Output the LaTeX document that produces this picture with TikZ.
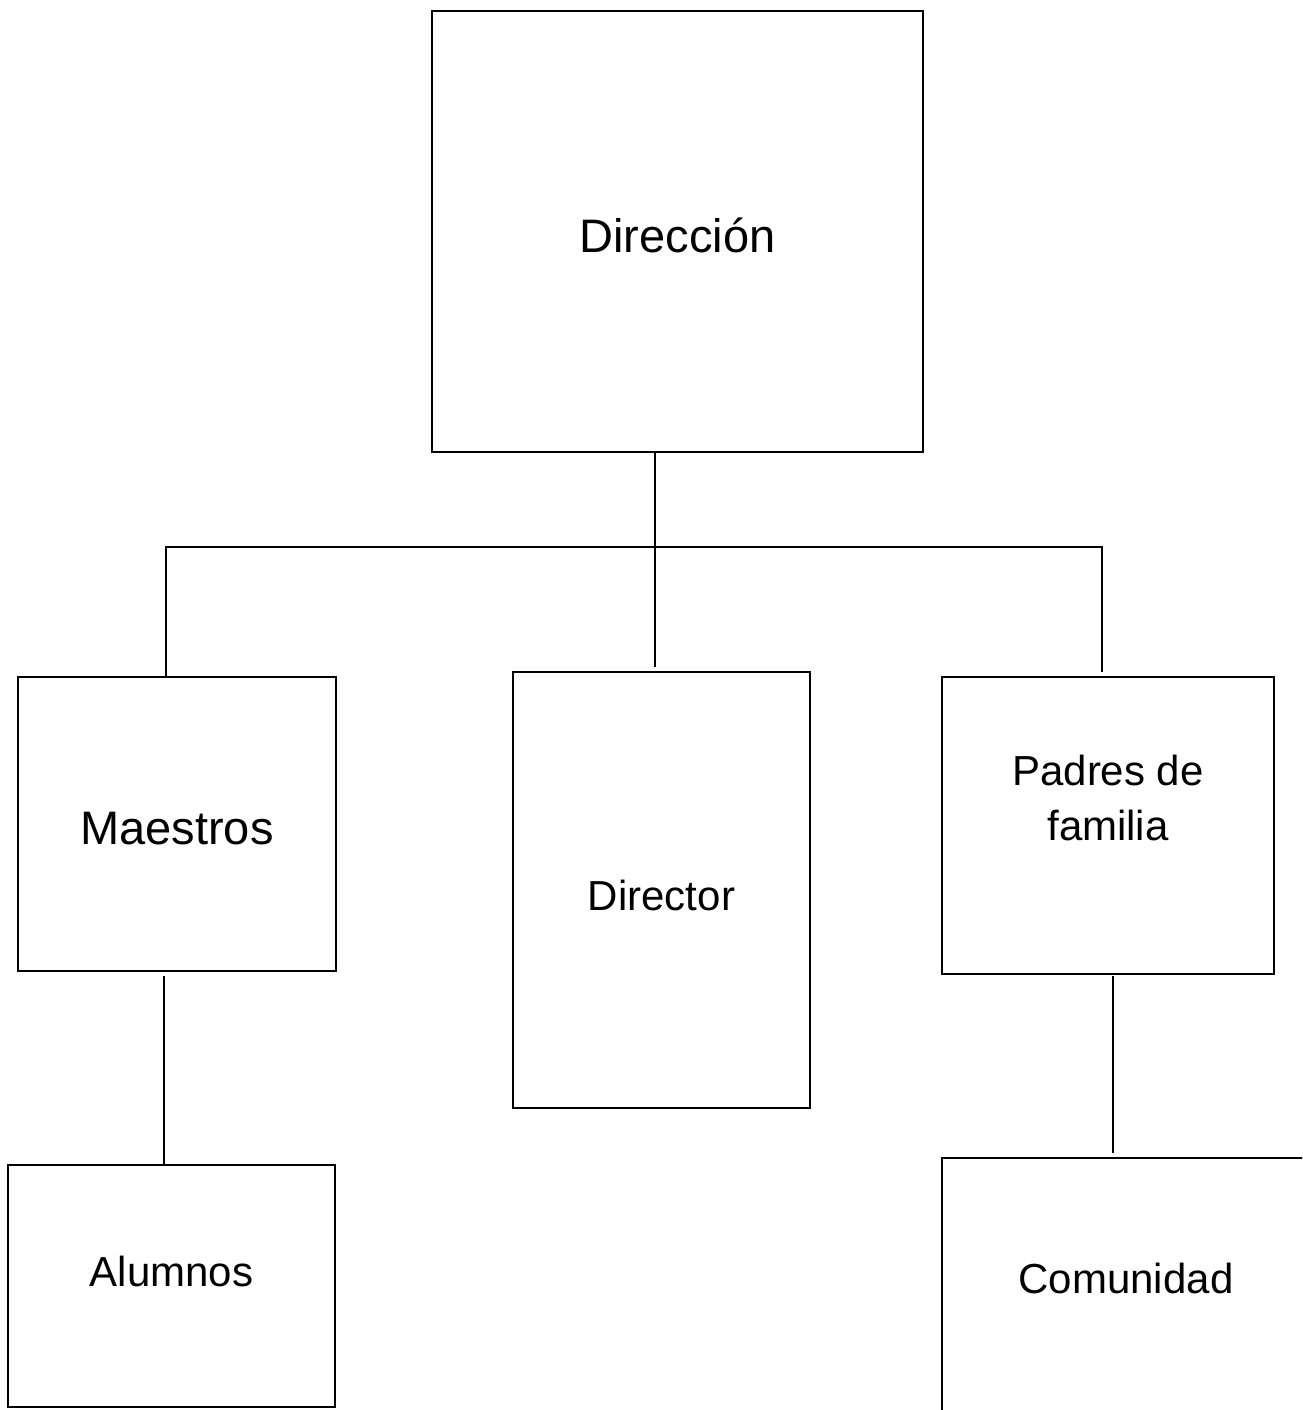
\documentclass[tikz,border=0pt]{standalone}
\usepackage{fontspec}
\setmainfont{Liberation Sans}
\usetikzlibrary{positioning}

\tikzset{
  caja/.style={draw,rectangle,line width=1.5pt,inner sep=0pt},
  linea/.style={line width=1.1pt},
  grande/.style={font=\fontsize{47}{56}\selectfont},
  chico/.style={font=\fontsize{42}{55}\selectfont,align=center}
}

\begin{document}
\begin{tikzpicture}[x=1pt,y=-1pt]
    \useasboundingbox (0,0) rectangle (1302,1410);
\clip (0,0) rectangle (1302,1410);
\node[caja,minimum width=491pt,minimum height=441pt,
  label={[grande,yshift=-4pt]center:Direcci\'on}] (dir) at (677.5,231.5) {};
\node[caja,minimum width=318pt,minimum height=294pt,
  label={[grande,yshift=-5pt]center:Maestros}] (maes) at (177,824) {};
\node[caja,minimum width=297pt,minimum height=436pt,
  label={[chico,yshift=-5pt]center:Director}] (dtor) at (661.5,890) {};
\node[caja,minimum width=332pt,minimum height=297pt,
  label={[chico,yshift=28pt]center:{Padres de\\familia}}] (padr) at (1108,825.5) {};
\node[caja,minimum width=327pt,minimum height=242pt,
  label={[chico,yshift=15pt]center:Alumnos}] (alum) at (171.5,1286) {};
\node[caja,minimum width=378pt,minimum height=272pt,
  label={[chico,yshift=16pt,xshift=-5pt]center:Comunidad}] (comu) at (1131,1294) {};
\coordinate (hub) at (655,547);
\coordinate (dfoot) at (655,667);
\coordinate (mtop) at (166,677);
\coordinate (ptop) at (1102,672);
\coordinate (mfoot) at (164,976);
\coordinate (pfoot) at (1113,976);
\coordinate (cend) at (1113,1153);
\draw[linea] (dir.south -| hub) -- (hub) -- (dfoot);
\draw[linea] (mtop) |- (hub) -| (ptop);
\draw[linea] (mfoot) -- (alum.north -| mfoot);
\draw[linea] (pfoot) -- (cend);
     \end{tikzpicture}
\end{document}
